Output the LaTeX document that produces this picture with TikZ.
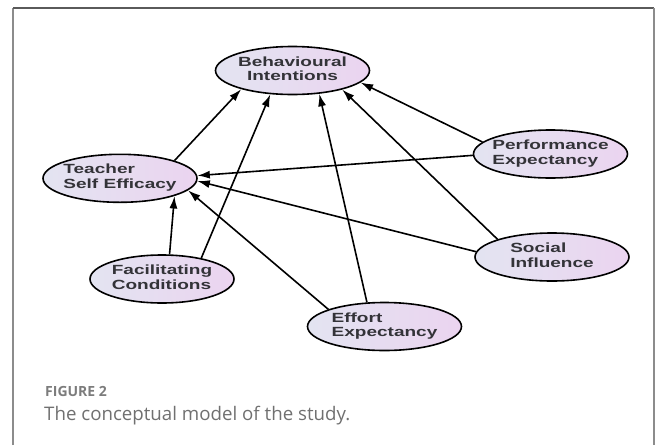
\documentclass[tikz,border=0pt]{standalone}
\usepackage{fontspec}
\usepackage{graphicx}
\setmainfont{Liberation Sans}
\newfontfamily\capfont{Open Sans}
\usetikzlibrary{shapes.geometric,arrows.meta}
\definecolor{fillL}{HTML}{E3E4F1}
\definecolor{fillR}{HTML}{EBD4F0}
\definecolor{txtgray}{HTML}{333338}
\definecolor{capA}{HTML}{7C7C7C}
\definecolor{capB}{HTML}{707070}
\definecolor{frameTop}{HTML}{5A5A5A}
\definecolor{frameSide}{HTML}{8C8C8C}
\newcommand{\ltxt}[1]{\makebox[0pt]{\scalebox{1.43}[1]{\begin{tabular}{@{}l@{}}#1\end{tabular}}}}
\newcommand{\ctxt}[1]{\makebox[0pt]{\scalebox{1.43}[1]{\begin{tabular}{@{}c@{}}#1\end{tabular}}}}
\tikzset{
  ell/.style={ellipse, draw=black, line width=1.6pt, minimum width=154pt, minimum height=48pt,
    inner sep=0pt, left color=fillL, right color=fillR, text=txtgray,
    font=\bfseries\fontsize{13.3}{14.8}\selectfont},
  arr/.style={line width=1.6pt, draw=black, -{Latex[length=12.5pt,width=8pt]}},
  captxt/.style={anchor=base west, inner sep=0pt}
}
\begin{document}
\begin{tikzpicture}[x=1pt,y=-1pt]
\useasboundingbox (0,0) rectangle (656,445);
% frame
\draw[frameSide, line width=1.5pt] (13,445) -- (13,8);
\draw[frameTop, line width=1.5pt] (13,8) -- (654,8);
\draw[frameSide, line width=1.5pt] (654,8) -- (654,445);
% nodes
\node[ell] (BI) at (292.5,70.5) {\ctxt{Behavioural\\Intentions}};
\node[ell] (TSE) at (120,178.3) {\ltxt{Teacher\\Self Efficacy}};
\node[ell] (PE) at (550.5,154) {\ltxt{Performance\\Expectancy}};
\node[ell] (SI) at (552,257) {\ltxt{Social\\Influence}};
\node[ell, minimum width=144pt] (FC) at (162,279) {\ltxt{Facilitating\\Conditions}};
\node[ell] (EE) at (384.5,326.5) {\ltxt{Effort\\Expectancy}};
% connectors
\draw[arr] (TSE.18.8) -- (BI.-160.25);
\draw[arr] (FC.28.8) -- (BI.-133.3);
\draw[arr] (FC.73) -- (TSE.-18.6);
\draw[arr] (EE.126.7) -- (BI.-41.6);
\draw[arr] (EE.163) -- (TSE.-10.3);
\draw[arr] (SI.162.2) -- (BI.-21.3);
\draw[arr] (SI.176.2) -- (TSE.-2.6);
\draw[arr] (PE.170.5) -- (BI.-10.4);
\draw[arr] (PE.181.5) -- (TSE.2.5);
% caption
\node[captxt, text=capA, font=\capfont\bfseries\fontsize{14}{16}\selectfont] (fig) at (45,396.5) {FIGURE 2};
\node[captxt, text=capB, font=\capfont\fontsize{18.7}{22}\selectfont] (caption) at (44,420.5) {The conceptual model of the study.};
\end{tikzpicture}
\end{document}
